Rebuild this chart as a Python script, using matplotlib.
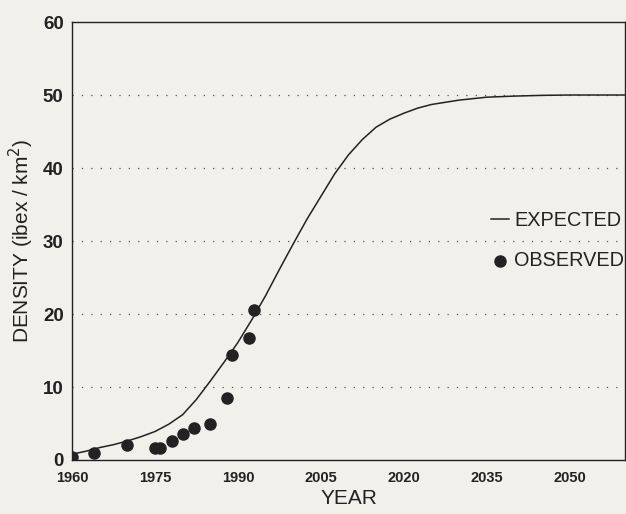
import matplotlib
matplotlib.use("Agg")
import matplotlib.pyplot as plt
from matplotlib.lines import Line2D

# Expected (model) curve values
expected_years = [1960, 1962.5, 1965, 1967.5, 1970, 1972.5, 1975, 1977.5, 1980, 1982.5,
                  1985, 1987.5, 1990, 1992.5, 1995, 1997.5, 2000, 2002.5, 2005, 2007.5,
                  2010, 2012.5, 2015, 2017.5, 2020, 2022.5, 2025, 2027.5, 2030, 2035,
                  2040, 2045, 2050, 2055, 2060]
expected_density = [0.8, 1.2, 1.7, 2.1, 2.6, 3.2, 3.9, 4.9, 6.2, 8.3,
                    10.8, 13.4, 16.1, 19.2, 22.5, 26.1, 29.6, 33.0, 36.1, 39.2,
                    41.8, 43.9, 45.6, 46.7, 47.5, 48.2, 48.7, 49.0, 49.3, 49.7,
                    49.85, 49.95, 50.0, 50.0, 50.0]

# Observed densities
observed_years = [1960, 1964, 1970, 1975, 1976, 1978, 1980, 1982, 1985, 1988, 1989, 1992, 1993]
observed_density = [0.45, 1.0, 2.1, 1.7, 1.7, 2.6, 3.6, 4.4, 5.0, 8.5, 14.4, 16.7, 20.5]

x_ticks = [1960, 1975, 1990, 2005, 2020, 2035, 2050]
y_ticks = [0, 10, 20, 30, 40, 50, 60]
grid_levels = [10, 20, 30, 40, 50]

bg = "#f1f0eb"
ink = "#222222"
plt.rcParams["font.family"] = ["Liberation Sans", "DejaVu Sans"]

fig = plt.figure(figsize=(6.26, 5.14), dpi=100, facecolor=bg)
ax = fig.add_axes([72 / 626, 1 - 460 / 514, (625 - 72) / 626, (460 - 22) / 514])
ax.set_facecolor(bg)

for g in grid_levels:
    ax.axhline(g, color="#555555", lw=0.9, linestyle=(0, (1, 6.5)), zorder=1)

ax.plot(expected_years, expected_density, color=ink, lw=1.1, zorder=2)
ax.plot(observed_years, observed_density, "o", color=ink, ms=8, zorder=3)

ax.set_xlim(1960, 2060)
ax.set_ylim(0, 60)
ax.set_xticks(x_ticks)
ax.set_yticks(y_ticks)
ax.tick_params(length=0)
ax.tick_params(axis="x", pad=8)
ax.tick_params(axis="y", pad=6)
for lab in ax.get_xticklabels():
    lab.set_fontsize(10.5)
    lab.set_fontweight("bold")
    lab.set_color(ink)
for lab in ax.get_yticklabels():
    lab.set_fontsize(13.5)
    lab.set_fontweight("bold")
    lab.set_color(ink)

for s in ax.spines.values():
    s.set_color(ink)
    s.set_linewidth(1.0)

ax.set_xlabel("YEAR", fontsize=15, color=ink, labelpad=3)
ax.set_ylabel("DENSITY (ibex / km$^2$)", fontsize=15, color=ink, labelpad=5)

# legend drawn as text at the right edge
fig.add_artist(Line2D([491 / 626, 509 / 626], [1 - 219 / 514, 1 - 219 / 514],
                      color=ink, lw=1.1, transform=fig.transFigure))
fig.text(514 / 626, 1 - 221 / 514, "EXPECTED", fontsize=14.3, color=ink, va="center", ha="left")
fig.add_artist(Line2D([500 / 626], [1 - 261 / 514], marker="o", ms=8, color=ink,
                      lw=0, transform=fig.transFigure))
fig.text(514 / 626, 1 - 261 / 514, "OBSERVED", fontsize=14.3, color=ink, va="center", ha="left")

fig.savefig("out.png", dpi=100, facecolor=bg)
